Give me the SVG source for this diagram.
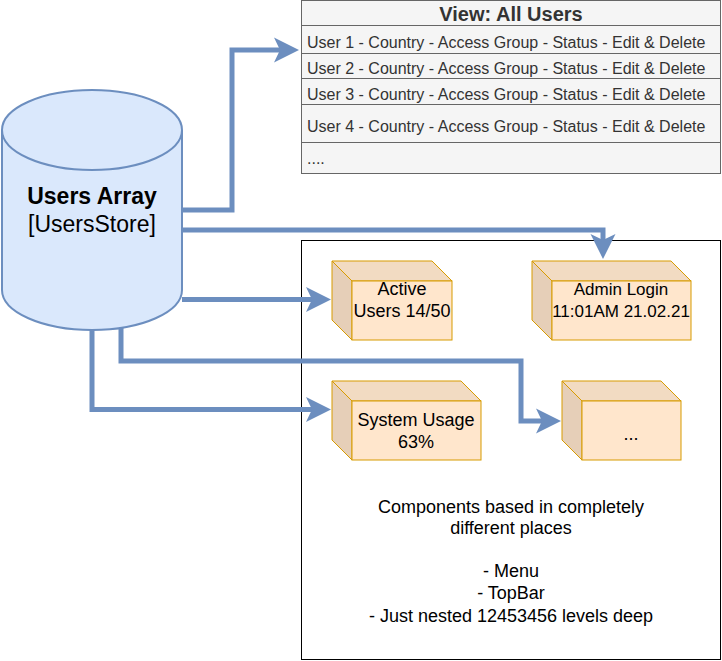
<svg xmlns="http://www.w3.org/2000/svg" width="722" height="661" viewBox="0 0 722 661">
<defs>
<style>
.t{font-family:"Liberation Sans",Arial,sans-serif;font-size:18px;fill:#000;text-anchor:middle}
.t17{font-family:"Liberation Sans",Arial,sans-serif;font-size:17px;fill:#000;text-anchor:middle}
.tv{font-family:"Liberation Sans",Arial,sans-serif;font-size:16px;fill:#333;}
.conn{fill:none;stroke:#6C8EBF;stroke-width:5;marker-end:url(#arr)}
.front{fill:#FFE6CC;stroke:#D79B00;stroke-width:1}
.top{fill:#F2DBC2;stroke:#D79B00;stroke-width:1}
.left{fill:#E6CFB8;stroke:#D79B00;stroke-width:1}
.row{fill:#F5F5F5;stroke:#666;stroke-width:1}
</style>
<marker id="arr" markerUnits="userSpaceOnUse" markerWidth="30" markerHeight="30" refX="6" refY="12.5" orient="auto" overflow="visible">
<path d="M0,0 L25,12.5 L0,25 L6,12.5 Z" fill="#6C8EBF"/>
</marker>
</defs>
<rect width="722" height="661" fill="#fff"/>

<g id="container">
<rect x="301.5" y="240.5" width="419" height="419" fill="#fff" stroke="#000" stroke-width="1"/>
<text class="t" x="511" y="513">Components based in completely</text>
<text class="t" x="511" y="534">different places</text>
<text class="t" x="511" y="577">- Menu</text>
<text class="t" x="511" y="599">- TopBar</text>
<text class="t" x="511" y="622">- Just nested 12453456 levels deep</text>
</g>

<g id="view-all-users">
<rect class="row" x="301.5" y="0.5" width="419" height="173"/>
<line x1="301.5" y1="25.5" x2="720.5" y2="25.5" stroke="#666"/>
<line x1="301.5" y1="53.5" x2="720.5" y2="53.5" stroke="#666"/>
<line x1="301.5" y1="78.5" x2="720.5" y2="78.5" stroke="#666"/>
<line x1="301.5" y1="104.5" x2="720.5" y2="104.5" stroke="#666"/>
<line x1="301.5" y1="142.5" x2="720.5" y2="142.5" stroke="#666"/>
<text x="511" y="21" style="font-family:'Liberation Sans',Arial,sans-serif;font-size:20px;font-weight:bold;fill:#333;text-anchor:middle">View: All Users</text>
<text class="tv" x="307" y="48">User 1 - Country - Access Group - Status - Edit &amp; Delete</text>
<text class="tv" x="307" y="74">User 2 - Country - Access Group - Status - Edit &amp; Delete</text>
<text class="tv" x="307" y="100">User 3 - Country - Access Group - Status - Edit &amp; Delete</text>
<text class="tv" x="307" y="132">User 4 - Country - Access Group - Status - Edit &amp; Delete</text>
<text class="tv" x="307" y="164">....</text>
</g>

<g id="connectors">
<path class="conn" d="M182,210 H232 V50 H280"/>
<path class="conn" d="M182,230 H603 V240"/>
<path class="conn" d="M182,299.5 H312"/>
<path class="conn" d="M121,290 V361 H521 V421 H542"/>
<path class="conn" d="M92,290 V409.5 H312"/>
</g>

<g id="users-array">
<path d="M2,130 V290 A90,40 0 0 0 182,290 V130" fill="#DAE8FC" stroke="#6C8EBF" stroke-width="2"/>
<ellipse cx="92" cy="130" rx="90" ry="40" fill="#DAE8FC" stroke="#6C8EBF" stroke-width="2"/>
<text x="92" y="204" style="font-family:'Liberation Sans',Arial,sans-serif;font-size:23px;font-weight:bold;fill:#000;text-anchor:middle">Users Array</text>
<text x="92" y="232" style="font-family:'Liberation Sans',Arial,sans-serif;font-size:23px;fill:#000;text-anchor:middle">[UsersStore]</text>
</g>

<g id="active-users">
<polygon class="top" points="332,261 432,261 452,281 352,281"/>
<polygon class="left" points="332,261 352,281 352,340 332,320"/>
<rect class="front" x="352" y="281" width="100" height="59"/>
<text class="t" x="402" y="295">Active</text>
<text class="t" x="402" y="317">Users 14/50</text>
</g>

<g id="admin-login">
<polygon class="top" points="532,261 671,261 691,281 552,281"/>
<polygon class="left" points="532,261 552,281 552,340 532,320"/>
<rect class="front" x="552" y="281" width="139" height="59"/>
<text class="t17" x="621" y="295">Admin Login</text>
<text class="t17" x="621" y="317">11:01AM 21.02.21</text>
</g>

<g id="system-usage">
<polygon class="top" points="332,381 461,381 481,401 352,401"/>
<polygon class="left" points="332,381 352,401 352,460 332,440"/>
<rect class="front" x="352" y="401" width="129" height="59"/>
<text class="t" x="416" y="426">System Usage</text>
<text class="t" x="416" y="448">63%</text>
</g>

<g id="more">
<polygon class="top" points="562,381 661,381 681,401 582,401"/>
<polygon class="left" points="562,381 582,401 582,460 562,440"/>
<rect class="front" x="582" y="401" width="99" height="59"/>
<text class="t" x="631" y="440">...</text>
</g>
</svg>
